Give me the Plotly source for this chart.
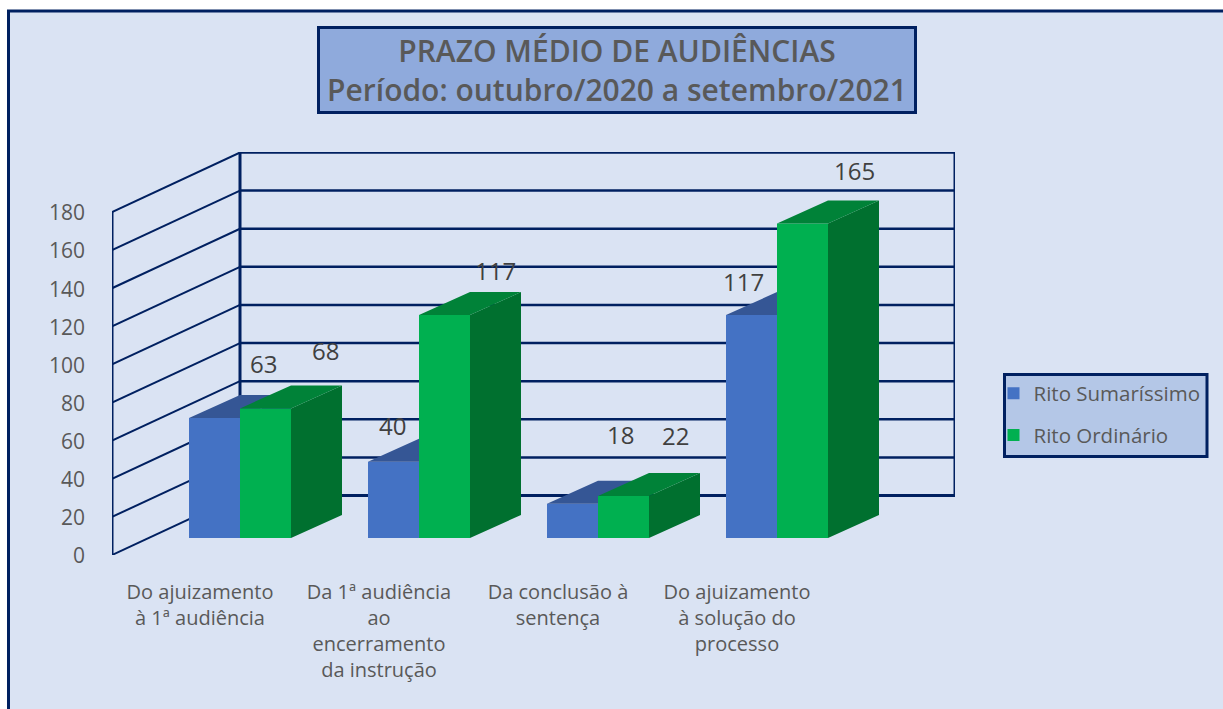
import plotly.graph_objects as go

categories = [
    "Do ajuizamento<br>à 1ª audiência",
    "Da 1ª audiência<br>ao<br>encerramento<br>da instrução",
    "Da conclusão à<br>sentença",
    "Do ajuizamento<br>à solução do<br>processo",
]
rito_sumarissimo = [63, 40, 18, 117]
rito_ordinario = [68, 117, 22, 165]
y_ticks = [0, 20, 40, 60, 80, 100, 120, 140, 160, 180]
title_lines = ["PRAZO MÉDIO DE AUDIÊNCIAS", "Período: outubro/2020 a setembro/2021"]

# label offsets (px) relative to the bar's front-top centre
sum_label_off = [(49, -54), (-1, -36), (48, -69), (-8, -34)]
ord_label_off = [(60, -58), (51, -45), (52, -61), (52, -53)]

W, H = 1223, 709
L, R, T, B = 112, 955, 152, 555
STEP = 179.0            # px per category
UNIT = 343 / 180.0      # px per value unit
X0 = 240.0              # px of category 0 split
NAVY = "#002060"
GREY = "#595959"
FONT = "Open Sans"

xr = [(L - X0) / STEP, (R - X0) / STEP]
yr = [0, (B - T) / UNIT]
bar_w = 51 / STEP
base_lift = 17 / UNIT
dx, dy = 51 / STEP, 23 / UNIT
wall_dy = 59.5 / UNIT


def px(x):
    return (x - L) / (R - L)


def py(y):
    return (B - y) / (B - T)


def faces(vals, offset):
    top_x, top_y, side_x, side_y = [], [], [], []
    for i, v in enumerate(vals):
        a, b = i + offset, i + offset + bar_w
        y0, y1 = base_lift, base_lift + v
        top_x += [a, b, b + dx, a + dx, a, None]
        top_y += [y1, y1, y1 + dy, y1 + dy, y1, None]
        side_x += [b, b + dx, b + dx, b, b, None]
        side_y += [y0, y0 + dy, y1 + dy, y1, y0, None]
    return top_x, top_y, side_x, side_y


def series(fig, vals, name, offset, front, top, side, xa, ya):
    xs = list(range(len(vals)))
    fig.add_trace(go.Bar(x=xs, y=vals, base=[base_lift] * len(vals), name=name,
                         width=bar_w, offset=offset, marker=dict(color=front, line_width=0),
                         legendgroup=name, xaxis=xa, yaxis=ya))
    tx, ty, sx, sy = faces(vals, offset)
    for fx, fy, col in ((sx, sy, side), (tx, ty, top)):
        fig.add_trace(go.Scatter(x=fx, y=fy, mode="lines", fill="toself", fillcolor=col,
                                 line=dict(width=0, color=col), hoverinfo="skip",
                                 showlegend=False, xaxis=xa, yaxis=ya))


fig = go.Figure()
series(fig, rito_sumarissimo, "Rito Sumaríssimo", -bar_w, "#4472C4", "#355695", "#2F5597", "x", "y")
series(fig, rito_ordinario, "Rito Ordinário", 0, "#00B050", "#008238", "#00702F", "x2", "y2")

shapes = [
    # page frame
    dict(type="rect", xref="paper", yref="paper", layer="below",
         x0=px(8.5), x1=px(W + 20), y0=py(11), y1=py(H + 20),
         fillcolor="#DAE3F3", line=dict(color=NAVY, width=3)),
    # legend box
    dict(type="rect", xref="paper", yref="paper", layer="below",
         x0=px(1004.5), x1=px(1207), y0=py(374.5), y1=py(456.5),
         fillcolor="#B4C7E7", line=dict(color=NAVY, width=3)),
]
line_kw = dict(type="line", xref="x", yref="y", layer="below")
for v in y_ticks:
    shapes.append(dict(line_kw, x0=xr[0], x1=0, y0=v, y1=v + wall_dy, line=dict(color=NAVY, width=2)))
    shapes.append(dict(line_kw, x0=0, x1=xr[1], y0=v + wall_dy, y1=v + wall_dy,
                       line=dict(color=NAVY, width=3 if v == 0 else 2.5)))
for x, a, b in ((xr[0], 0, y_ticks[-1]), (0, wall_dy, y_ticks[-1] + wall_dy),
                (xr[1], wall_dy, y_ticks[-1] + wall_dy)):
    shapes.append(dict(line_kw, x0=x, x1=x, y0=a, y1=b, line=dict(color=NAVY, width=3)))

annotations = [
    dict(text="<br>".join(title_lines), xref="paper", yref="paper", x=px(617), y=py(70),
         xanchor="center", yanchor="middle", showarrow=False, width=594, height=82,
         bgcolor="#8FAADC", bordercolor=NAVY, borderwidth=3, borderpad=0,
         font=dict(family=FONT, size=30, color=GREY, weight=600)),
]
for vals, off, offs in ((rito_sumarissimo, -bar_w / 2, sum_label_off),
                        (rito_ordinario, bar_w / 2, ord_label_off)):
    for i, v in enumerate(vals):
        annotations.append(dict(text=str(v), x=i + off, y=base_lift + v, xref="x", yref="y",
                                xshift=offs[i][0], yshift=-offs[i][1], showarrow=False,
                                xanchor="center", yanchor="middle",
                                font=dict(family=FONT, size=24, color="#404040")))

axis_x = dict(range=xr, showgrid=False, zeroline=False, showline=False, ticks="")
axis_y = dict(range=yr, showgrid=False, zeroline=False, showline=False)
fig.update_layout(
    width=W, height=H, margin=dict(l=L, r=W - R, t=T, b=H - B, autoexpand=False),
    paper_bgcolor="white", plot_bgcolor="rgba(0,0,0,0)", barmode="overlay",
    font=dict(family=FONT, color=GREY),
    xaxis=dict(axis_x, tickmode="array", tickvals=[i - 40 / STEP for i in range(len(categories))],
               ticktext=categories, tickangle=0, ticklabelstandoff=23,
               tickfont=dict(family=FONT, size=20, color=GREY)),
    yaxis=dict(axis_y, tickmode="array", tickvals=y_ticks, ticks="", ticklabelstandoff=26,
               ticklabelshift=1, tickfont=dict(family=FONT, size=21, color=GREY)),
    xaxis2=dict(axis_x, overlaying="x", matches="x", showticklabels=False),
    yaxis2=dict(axis_y, overlaying="y", matches="y", showticklabels=False, ticks=""),
    legend=dict(x=px(1004.5), y=py(373.5), xanchor="left", yanchor="top", bgcolor="rgba(0,0,0,0)",
                borderwidth=0, tracegroupgap=12, traceorder="grouped", indentation=-11,
                font=dict(family=FONT, size=20.5, color=GREY), itemclick=False, itemdoubleclick=False),
    shapes=shapes, annotations=annotations,
)
fig.write_html("out.html", config=dict(displayModeBar=False),
               post_script="document.body.style.margin='0';")
